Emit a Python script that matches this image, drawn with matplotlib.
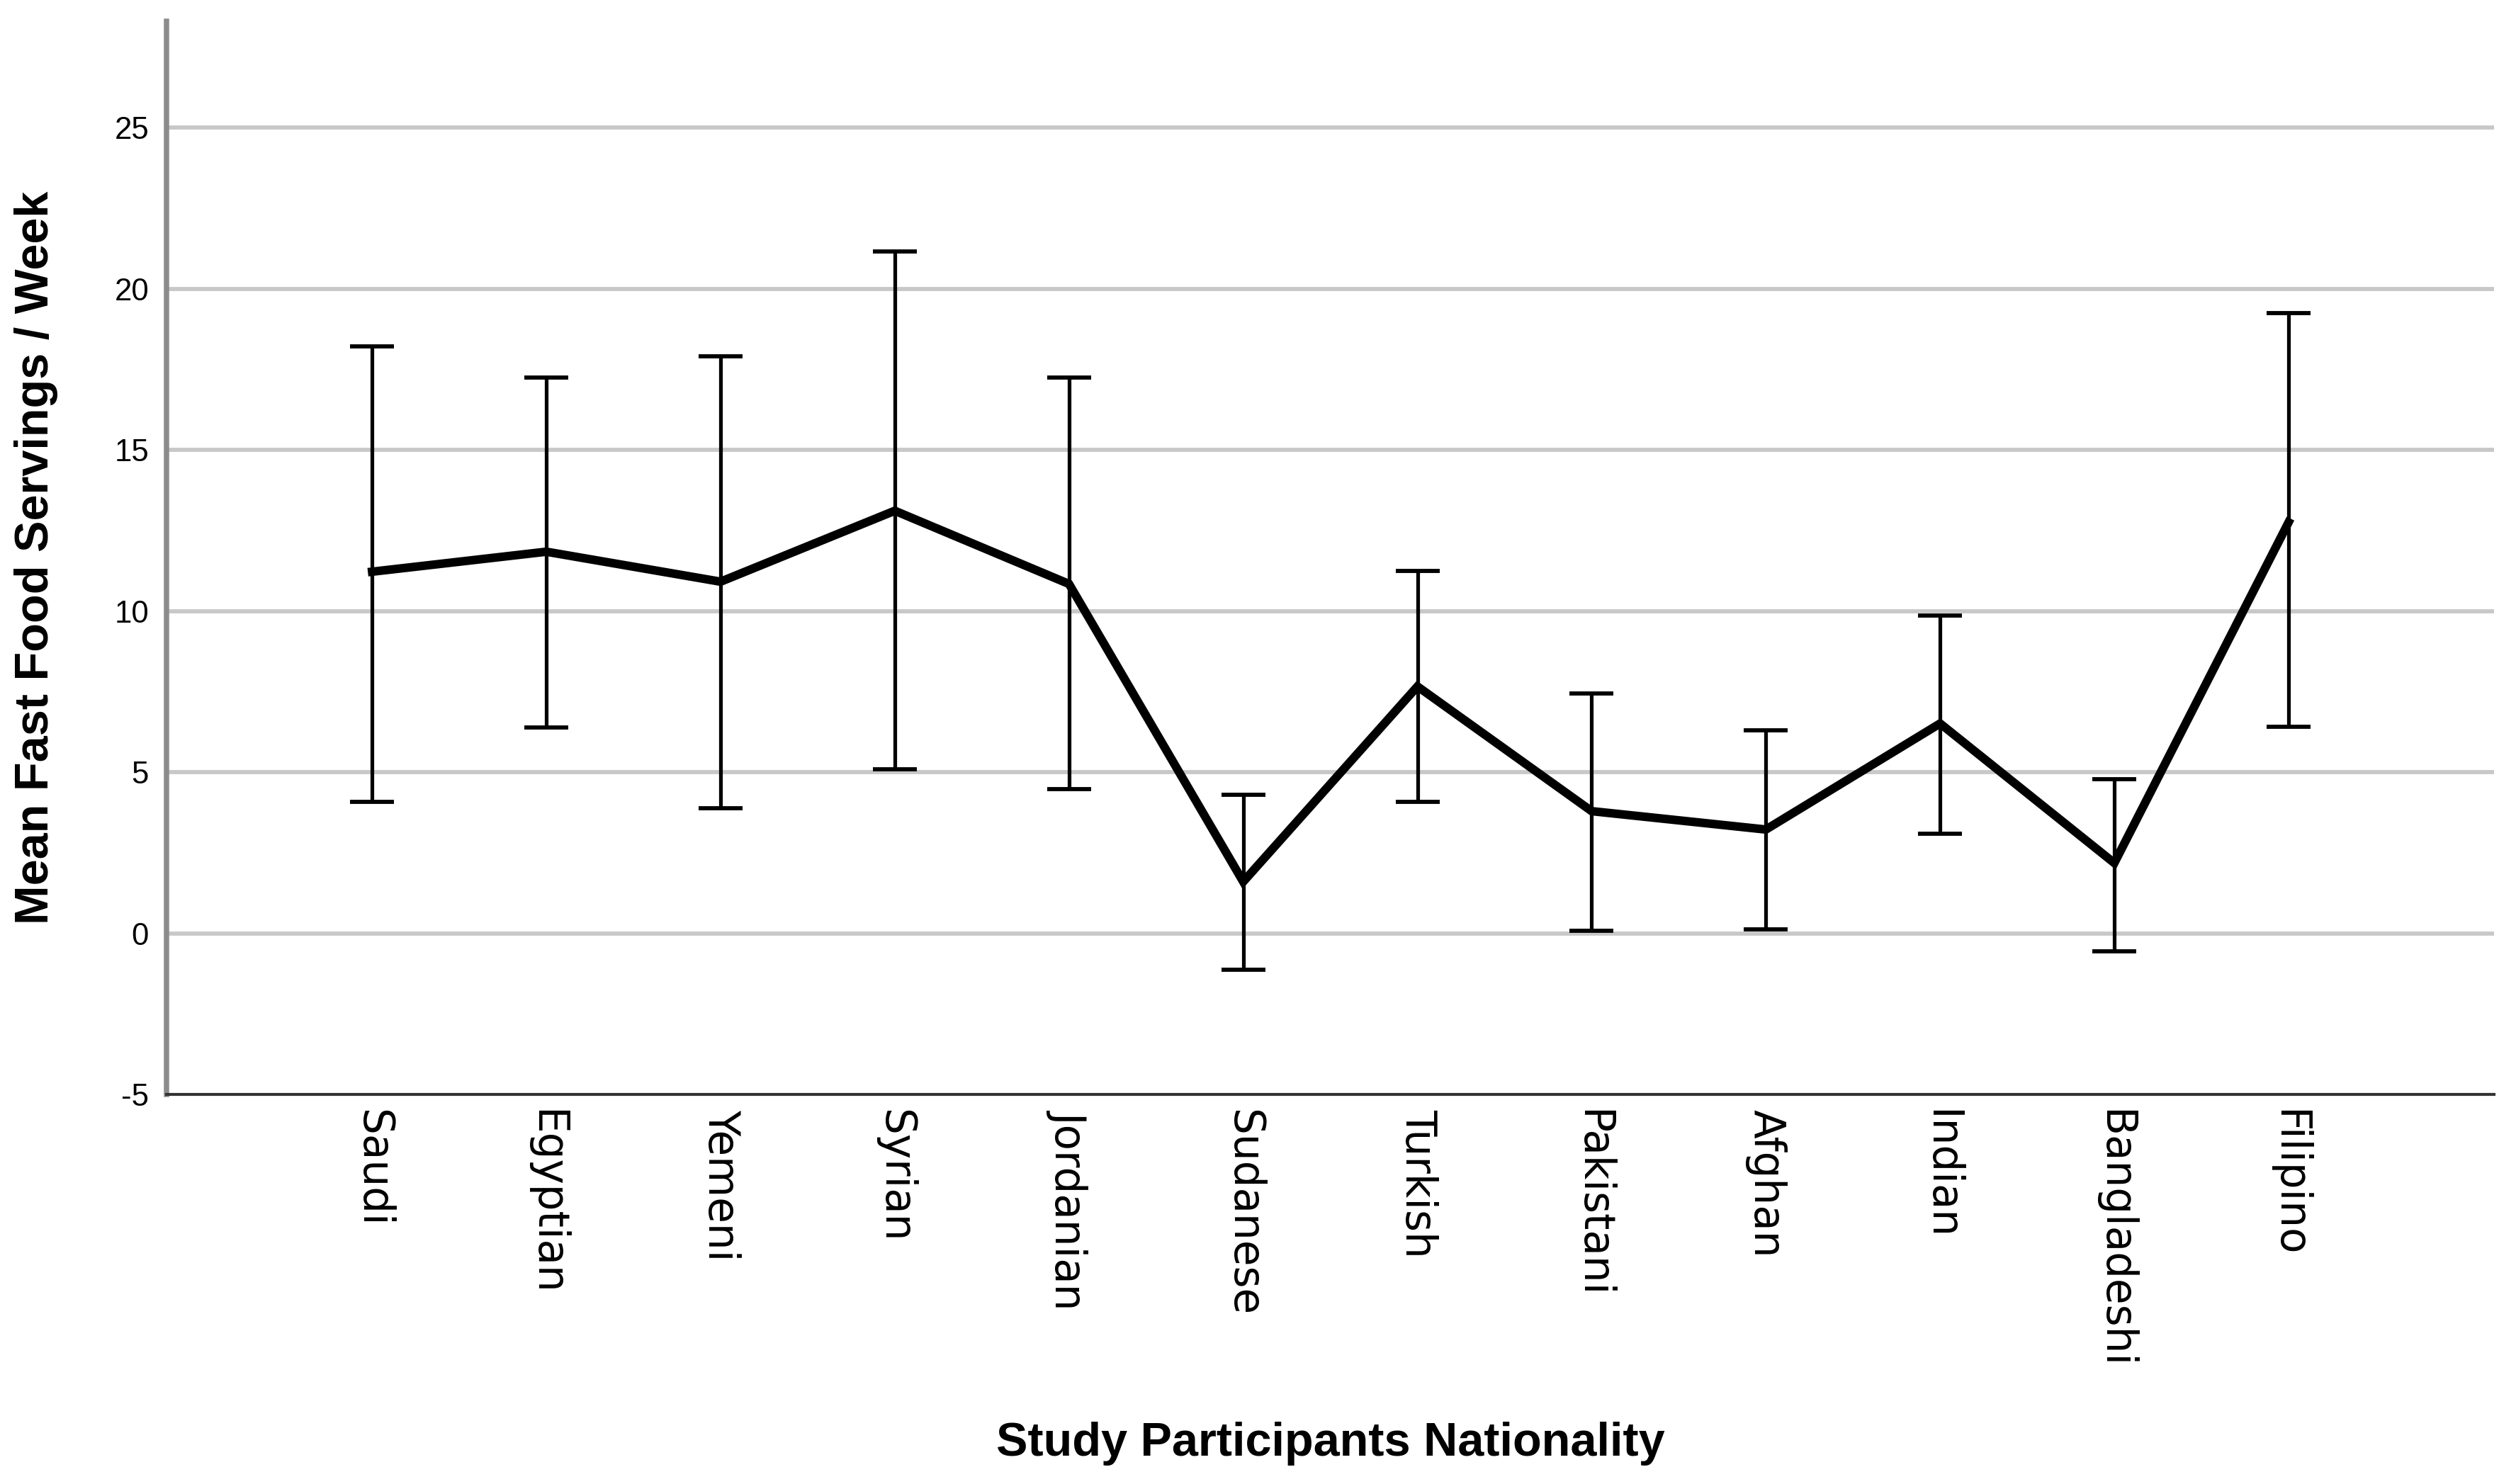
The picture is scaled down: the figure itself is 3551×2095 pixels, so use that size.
import numpy as np
import matplotlib.pyplot as plt

plt.rcParams['font.family'] = ['Liberation Sans', 'DejaVu Sans']
plt.rcParams['axes.unicode_minus'] = False

# Mean fast food servings per week with error bar limits
nationalities = ['Saudi', 'Egyptian', 'Yemeni', 'Syrian', 'Jordanian', 'Sudanese',
                 'Turkish', 'Pakistani', 'Afghan', 'Indian', 'Bangladeshi', 'Filipino']
means = [11.22, 11.84, 10.91, 13.11, 10.84, 1.60, 7.66, 3.79, 3.22, 6.51, 2.18, 12.75]
upper = [18.20, 17.25, 17.90, 21.15, 17.25, 4.29, 11.24, 7.44, 6.29, 9.85, 4.78, 19.24]
lower = [4.08, 6.39, 3.89, 5.09, 4.48, -1.13, 4.07, 0.08, 0.13, 3.09, -0.55, 6.40]
y_ticks = [-5, 0, 5, 10, 15, 20, 25]

x = np.arange(len(nationalities))
means = np.array(means)
err = [means - np.array(lower), np.array(upper) - means]

fig = plt.figure(figsize=(3551 / 300, 2095 / 300), dpi=300)
ax = fig.add_axes([0.0662, 0.2625, 0.9251, 0.7232])

# horizontal gridlines (not at the x axis itself)
for t in y_ticks[1:]:
    ax.axhline(t, color='#c8c8c8', lw=1.4, zorder=0)

ax.errorbar(x, means, yerr=err, fmt='none', ecolor='black', elinewidth=1.25,
            capsize=7.5, capthick=1.4, zorder=2)
ax.plot(x, means, color='black', lw=2.9, solid_joinstyle='miter', zorder=3)

ax.set_xlim(-1.18, 12.18)
ax.set_ylim(-5, 28.3)
ax.set_yticks(y_ticks)
ax.set_xticks(x)
ax.set_xticklabels(nationalities, rotation=-90, va='top', ha='center',
                   family=['DejaVu Sans'], fontsize=14.3)
ax.tick_params(axis='y', length=0, labelsize=10.5, pad=6)
ax.tick_params(axis='x', length=0, pad=5)

for s in ['top', 'right']:
    ax.spines[s].set_visible(False)
ax.spines['left'].set_color('#8c8c8c')
ax.spines['left'].set_linewidth(1.8)
ax.spines['bottom'].set_color('#333333')
ax.spines['bottom'].set_linewidth(1.0)

ax.set_ylabel('Mean Fast Food Servings / Week', fontsize=16, fontweight='bold')
ax.yaxis.set_label_coords(-0.0465, 0.5)
ax.set_xlabel('Study Participants Nationality', fontsize=16, fontweight='bold')
ax.xaxis.set_label_coords(0.5, -0.305)

fig.savefig('out.png', dpi=300, facecolor='white')
